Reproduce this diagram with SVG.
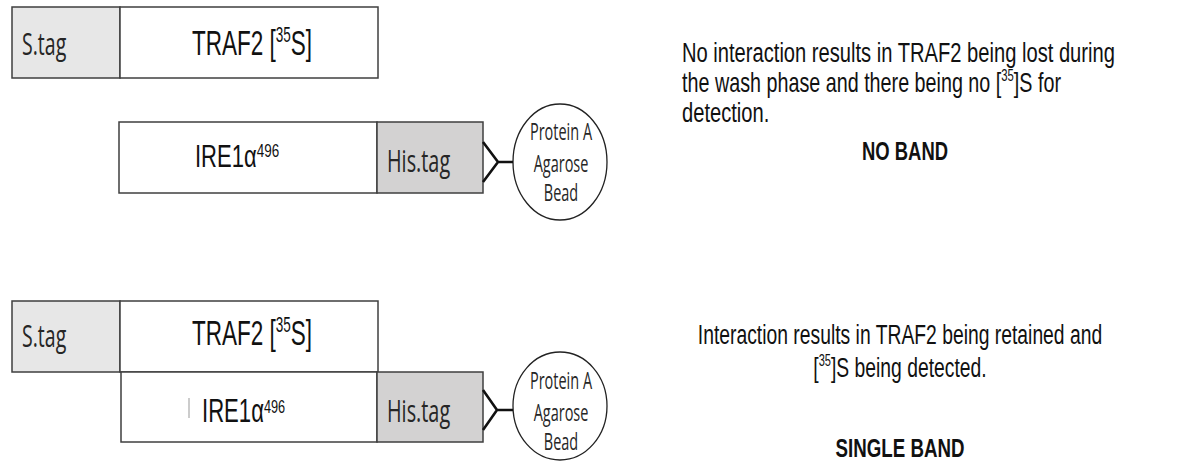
<svg xmlns="http://www.w3.org/2000/svg" width="1192" height="466" viewBox="0 0 1192 466">
<style>
.box{stroke:#3f3f3f;stroke-width:1.5;fill:#ffffff}
.stag{stroke:#3f3f3f;stroke-width:1.5;fill:#e7e7e7}
.his{stroke:#3f3f3f;stroke-width:1.5;fill:#d3d2d2}
.bead{stroke:#222;stroke-width:1.3;fill:#ffffff}
.fork{stroke:#111;stroke-width:2.6;fill:none;stroke-linejoin:miter}
.cal{font-family:"Open Sans","Liberation Sans",sans-serif;fill:#262626}
.nar{font-family:"Liberation Sans",Arial,sans-serif;fill:#111}
.bold{font-family:"Liberation Sans",Arial,sans-serif;font-weight:bold;fill:#111}
</style>

<g id="top-traf2">
<rect class="stag" x="12" y="7" width="108" height="71"/>
<rect class="box" x="120" y="7" width="258" height="71"/>
<text class="cal" font-size="31" transform="translate(22,55) scale(0.63,1)">S.tag</text>
<text class="nar" font-size="36" transform="translate(192,55) scale(0.625,1)">TRAF2 [<tspan font-size="21.6" dy="-13">35</tspan><tspan dy="13">S]</tspan></text>
</g>

<g id="top-ire1">
<rect class="box" x="119" y="122" width="258" height="71"/>
<rect class="his" x="377" y="122" width="106" height="71"/>
<text class="nar" font-size="31" transform="translate(195,167) scale(0.71,1)">IRE1α<tspan font-size="19" dy="-10">496</tspan></text>
<text class="cal" font-size="31" transform="translate(387,172) scale(0.64,1)">His.tag</text>
</g>

<g id="top-bead">
<ellipse class="bead" cx="560" cy="162" rx="47" ry="58"/>
<text class="cal" font-size="23" text-anchor="middle" transform="translate(561,140) scale(0.63,1)">Protein A</text>
<text class="cal" font-size="23" text-anchor="middle" transform="translate(561,172) scale(0.63,1)">Agarose</text>
<text class="cal" font-size="23" text-anchor="middle" transform="translate(561,201) scale(0.63,1)">Bead</text>
</g>

<g id="bottom-traf2">
<rect class="stag" x="12" y="301" width="108" height="71"/>
<rect class="box" x="120" y="301" width="258" height="71"/>
<text class="cal" font-size="31" transform="translate(22,347) scale(0.63,1)">S.tag</text>
<text class="nar" font-size="36" transform="translate(192,345) scale(0.625,1)">TRAF2 [<tspan font-size="21.6" dy="-13">35</tspan><tspan dy="13">S]</tspan></text>
</g>

<g id="bottom-ire1">
<rect class="box" x="121" y="372" width="256" height="70"/>
<rect class="his" x="377" y="372" width="106" height="70"/>
<rect x="188.5" y="398" width="1" height="20" fill="#9a9a9a"/>
<text class="nar" font-size="33" transform="translate(202,422) scale(0.67,1)">IRE1α<tspan font-size="19" dy="-9">496</tspan></text>
<text class="cal" font-size="31" transform="translate(387,422) scale(0.64,1)">His.tag</text>
</g>

<g id="bottom-bead">
<ellipse class="bead" cx="560" cy="406" rx="47" ry="54"/>
<text class="cal" font-size="23" text-anchor="middle" transform="translate(561,389) scale(0.63,1)">Protein A</text>
<text class="cal" font-size="23" text-anchor="middle" transform="translate(561,421) scale(0.63,1)">Agarose</text>
<text class="cal" font-size="23" text-anchor="middle" transform="translate(561,450) scale(0.63,1)">Bead</text>
</g>

<g id="connectors">
<path class="fork" d="M483,142 L498,162 L483,182 M498,162 L513,162"/>
<path class="fork" d="M483,390 L497,410 L483,430 M497,410 L513,410"/>
</g>

<g id="caption-top">
<text class="nar" font-size="28" transform="translate(682,62) scale(0.72,1)">No interaction results in TRAF2 being lost during</text>
<text class="nar" font-size="28" transform="translate(682,92) scale(0.705,1)">the wash phase and there being no [<tspan font-size="16" dy="-11">35</tspan><tspan dy="11">]S for</tspan></text>
<text class="nar" font-size="28" transform="translate(682,122) scale(0.72,1)">detection.</text>
<text class="bold" font-size="26" text-anchor="middle" transform="translate(905,160) scale(0.71,1)">NO BAND</text>
</g>

<g id="caption-bottom">
<text class="nar" font-size="28" text-anchor="middle" transform="translate(900,344) scale(0.69,1)">Interaction results in TRAF2 being retained and</text>
<text class="nar" font-size="28" text-anchor="middle" transform="translate(900,377) scale(0.69,1)">[<tspan font-size="16" dy="-11">35</tspan><tspan dy="11">]S being detected.</tspan></text>
<text class="bold" font-size="26" text-anchor="middle" transform="translate(900,457) scale(0.72,1)">SINGLE BAND</text>
</g>
</svg>
